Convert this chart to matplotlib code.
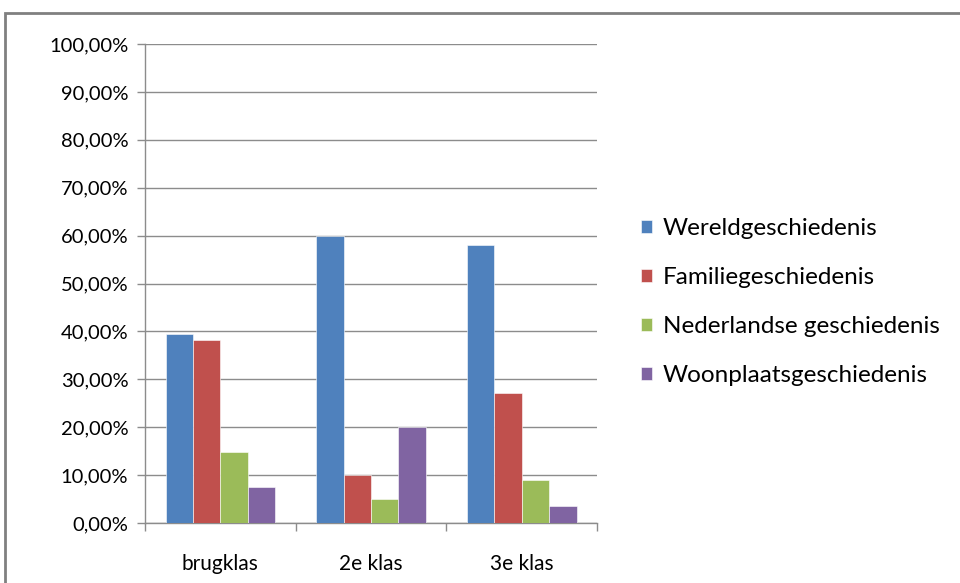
import matplotlib.pyplot as plt
import numpy as np
from matplotlib.patches import Rectangle
from matplotlib.ticker import FuncFormatter, FixedLocator

plt.rcParams['font.family'] = ['Lato', 'DejaVu Sans']

categories = ["brugklas", "2e klas", "3e klas"]
series = ["Wereldgeschiedenis", "Familiegeschiedenis",
          "Nederlandse geschiedenis", "Woonplaatsgeschiedenis"]
wereld = [39.5, 60.0, 58.0]
familie = [38.3, 10.0, 27.1]
nederland = [14.8, 5.0, 9.0]
woonplaats = [7.5, 20.0, 3.5]
colors = ["#4F81BD", "#C0504D", "#9BBB59", "#8064A2"]

fig = plt.figure(figsize=(9.6, 5.83), dpi=100)
ax = fig.add_axes([0.151, 0.1029, 0.471, 0.8216])

x = np.arange(len(categories))
w = 1 / 5.5
for i, (vals, name) in enumerate(zip([wereld, familie, nederland, woonplaats], series)):
    ax.bar(x + (i - 1.5) * w, vals, w, color=colors[i], label=name,
           edgecolor="white", linewidth=0.4, zorder=3)

ax.set_xlim(-0.5, 2.5)
ax.set_ylim(0, 100)
ax.set_yticks(np.arange(0, 101, 10))
ax.yaxis.set_major_formatter(FuncFormatter(lambda v, p: f"{v:.2f}%".replace(".", ",")))
ax.grid(axis="y", color="#8c8c8c", linewidth=1, zorder=0)
ax.set_xticks(x)
ax.set_xticklabels(categories)
ax.xaxis.set_minor_locator(FixedLocator([-0.5, 0.5, 1.5, 2.5]))
ax.tick_params(axis="x", which="major", length=0, pad=22, labelsize=15)
ax.tick_params(axis="x", which="minor", length=6, color="#8c8c8c", width=1)
ax.tick_params(axis="y", length=6, color="#8c8c8c", width=1, labelsize=14.5, pad=6)
for s in ["top", "right"]:
    ax.spines[s].set_visible(False)
for s in ["left", "bottom"]:
    ax.spines[s].set_color("#8c8c8c")
    ax.spines[s].set_linewidth(1)

ax.legend(loc="center left", bbox_to_anchor=(1.097, 0.461), frameon=False,
          fontsize=17.5, handlelength=0.45, handleheight=0.45,
          handletextpad=0.45, labelspacing=1.15, borderpad=0, borderaxespad=0)

fig.patches.append(Rectangle((5 / 960, -0.1), 1.2, 1 - 13 / 583 + 0.1,
                             transform=fig.transFigure, fill=False,
                             edgecolor="#808080", linewidth=2))

plt.savefig("out.png", dpi=100)
